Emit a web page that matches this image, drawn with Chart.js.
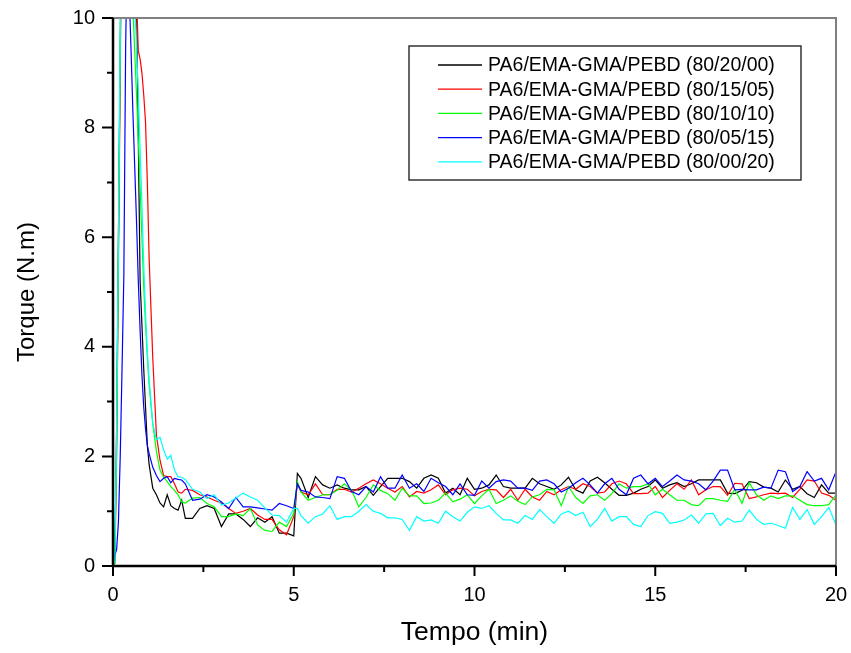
<!DOCTYPE html>
<html>
<head>
<meta charset="utf-8">
<script src="https://cdn.jsdelivr.net/npm/chart.js@4/dist/chart.umd.min.js"></script>
<style>
  html, body { margin: 0; padding: 0; background: #fff; }
  #torque { display: block; }
</style>
</head>
<body>
<canvas id="torque" width="851" height="653"></canvas>
<script>
// tempo (min) - finer steps during the loading peak
const tempo = [
  0, 0.05, 0.1, 0.15, 0.2, 0.25, 0.3, 0.35, 0.4, 0.45, 0.5, 0.55, 0.6, 0.65, 0.7, 0.75, 0.8, 0.85, 0.9, 0.95, 1.0,
  1.1, 1.2, 1.3, 1.4, 1.5, 1.6, 1.7, 1.8, 1.9, 2.0,
  2.2, 2.4, 2.6, 2.8, 3.0, 3.2, 3.4, 3.6, 3.8, 4.0, 4.2, 4.4, 4.6, 4.8,
  5.0, 5.1,
  5.2, 5.4, 5.6, 5.8, 6.0, 6.2, 6.4, 6.6, 6.8, 7.0, 7.2, 7.4, 7.6, 7.8, 8.0,
  8.2, 8.4, 8.6, 8.8, 9.0, 9.2, 9.4, 9.6, 9.8, 10.0, 10.2, 10.4, 10.6, 10.8, 11.0,
  11.2, 11.4, 11.6, 11.8, 12.0, 12.2, 12.4, 12.6, 12.8, 13.0, 13.2, 13.4, 13.6, 13.8, 14.0,
  14.2, 14.4, 14.6, 14.8, 15.0, 15.2, 15.4, 15.6, 15.8, 16.0, 16.2, 16.4, 16.6, 16.8, 17.0,
  17.2, 17.4, 17.6, 17.8, 18.0, 18.2, 18.4, 18.6, 18.8, 19.0, 19.2, 19.4, 19.6, 19.8, 20.0
];

// torque (N.m) per blend
const t80_20_00 = [
  0, 0.1, 2.5, 6, 9.5, 13, 14, 14.5, 14.5, 14, 13.5, 12.5, 11.5, 10.3, 7.8, 5.2, 4.4, 3.6, 2.9, 2.2, 1.85,
  1.42, 1.3, 1.15, 1.08, 1.3, 1.1, 1.05, 1.02, 1.2, 0.87,
  0.87, 1.05, 1.1, 1.05, 0.72, 0.95, 0.95, 0.85, 0.72, 0.88, 0.8, 0.9, 0.6, 0.6,
  0.55, 1.69,
  1.6, 1.25, 1.63, 1.48, 1.42, 1.48, 1.42, 1.39, 1.39, 1.45, 1.29, 1.45, 1.6, 1.6, 1.6,
  1.54, 1.42, 1.6, 1.66, 1.6, 1.33, 1.42, 1.3, 1.6, 1.4, 1.42, 1.48, 1.66, 1.45, 1.42,
  1.42, 1.42, 1.6, 1.5, 1.45, 1.4, 1.48, 1.62, 1.39, 1.33, 1.55, 1.62, 1.52, 1.4, 1.29,
  1.29, 1.33, 1.4, 1.45, 1.57, 1.42, 1.48, 1.52, 1.45, 1.5, 1.57, 1.57, 1.57, 1.57, 1.33,
  1.32, 1.38, 1.54, 1.52, 1.44, 1.42, 1.35, 1.57, 1.4, 1.45, 1.32, 1.25, 1.48, 1.33, 1.33
];
const t80_15_05 = [
  0, 0.05, 2, 5.5, 9, 12.5, 14, 15, 15, 14.5, 14, 13, 12, 10.4, 9.4, 9.25, 9.0, 8.6, 8.1, 7.0, 5.6,
  3.8, 2.4, 1.93, 1.65, 1.63, 1.63, 1.5, 1.35, 1.33, 1.4,
  1.38, 1.3, 1.26, 1.2, 1.15, 1.05, 0.96, 1.0, 1.05, 0.93, 0.85, 0.85, 0.66, 0.57,
  0.9, 1.5,
  1.35, 1.3, 1.5, 1.3, 1.3, 1.4, 1.4, 1.35, 1.42, 1.5, 1.57, 1.5, 1.42, 1.35, 1.45,
  1.26, 1.36, 1.33, 1.39, 1.48, 1.3, 1.39, 1.42, 1.4, 1.28, 1.36, 1.4, 1.39, 1.25, 1.4,
  1.2, 1.4, 1.26, 1.2, 1.36, 1.3, 1.39, 1.45, 1.4, 1.5, 1.45, 1.33, 1.35, 1.5, 1.55,
  1.5, 1.32, 1.32, 1.33, 1.45, 1.25, 1.38, 1.5, 1.4, 1.57, 1.3, 1.39, 1.45, 1.45, 1.29,
  1.51, 1.5, 1.23, 1.26, 1.3, 1.33, 1.32, 1.33, 1.25, 1.4, 1.57, 1.55, 1.33, 1.29, 1.2
];
const t80_10_10 = [
  0, 0.05, 2.2, 5.8, 9.5, 12.5, 13.5, 13.5, 13, 12, 11, 10.2, 9.4, 8.6, 7.8, 6.9, 6.0, 5.1, 4.4, 3.8, 3.3,
  2.6, 2.1, 1.75, 1.62, 1.54, 1.45, 1.38, 1.3, 1.17, 1.15,
  1.24, 1.25, 1.14, 1.08, 0.9, 0.9, 0.95, 0.92, 1.05, 0.75, 0.65, 0.63, 0.8, 0.72,
  0.96, 1.54,
  1.35, 1.2, 1.25, 1.3, 1.3, 1.38, 1.5, 1.38, 1.08, 1.25, 1.48, 1.38, 1.32, 1.2, 1.42,
  1.28, 1.28, 1.14, 1.15, 1.2, 1.33, 1.17, 1.22, 1.3, 1.14, 1.28, 1.4, 1.14, 1.2, 1.28,
  1.18, 1.12, 1.26, 1.3, 1.4, 1.39, 1.1, 1.45, 1.25, 1.14, 1.28, 1.3, 1.2, 1.32, 1.5,
  1.42, 1.45, 1.45, 1.5, 1.3, 1.4, 1.3, 1.2, 1.2, 1.12, 1.1, 1.23, 1.23, 1.2, 1.18,
  1.4, 1.14, 1.52, 1.3, 1.2, 1.28, 1.23, 1.28, 1.28, 1.2, 1.12, 1.1, 1.1, 1.12, 1.3
];
const t80_05_15 = [
  0, 0.2, 0.3, 0.8, 2, 3.6, 5.3, 9.5, 11.5, 10.4, 9.4, 8.3, 7.3, 6.3, 5.2, 4.3, 3.5, 2.9, 2.5, 2.2, 2.05,
  1.8, 1.65, 1.54, 1.6, 1.63, 1.52, 1.6, 1.58, 1.57, 1.5,
  1.2, 1.22, 1.3, 1.26, 1.17, 1.05, 1.25, 1.08, 1.08, 1.06, 1.04, 1.02, 1.14, 1.1,
  1.05, 1.5,
  1.38, 1.35, 1.26, 1.25, 1.23, 1.63, 1.6, 1.36, 1.3, 1.45, 1.35, 1.63, 1.42, 1.42, 1.66,
  1.42, 1.5, 1.36, 1.6, 1.52, 1.45, 1.3, 1.5, 1.3, 1.29, 1.55, 1.42, 1.54, 1.57, 1.55,
  1.42, 1.42, 1.38, 1.55, 1.57, 1.5, 1.35, 1.42, 1.52, 1.6, 1.48, 1.33, 1.5, 1.6, 1.4,
  1.3, 1.6, 1.66, 1.5, 1.6, 1.45, 1.55, 1.66, 1.57, 1.55, 1.5, 1.39, 1.55, 1.75, 1.75,
  1.39, 1.4, 1.39, 1.39, 1.44, 1.42, 1.75, 1.72, 1.36, 1.45, 1.72, 1.55, 1.6, 1.39, 1.72
];
const t80_00_20 = [
  0, 0.1, 2.5, 6, 9.8, 13, 14, 14, 13.5, 12.5, 11.5, 10.8, 10.3, 9.5, 8.6, 7.6, 6.6, 5.5, 4.6, 3.9, 3.4,
  2.6, 2.3, 2.35, 2.12, 1.95, 2.02, 1.75, 1.63, 1.62, 1.58,
  1.4, 1.35, 1.23, 1.3, 1.11, 1.15, 1.24, 1.33, 1.26, 1.2, 1.06, 0.93, 0.92, 0.8,
  1.05, 1.05,
  0.92, 0.78, 0.9, 0.95, 1.1, 0.85, 0.9, 0.9, 1.0, 1.12, 1.0, 0.96, 0.88, 0.88, 0.85,
  0.65, 0.9, 0.82, 0.84, 0.78, 1.0, 0.9, 0.82, 0.98, 1.08, 1.05, 1.1, 0.96, 0.84, 0.84,
  0.78, 0.92, 0.85, 1.03, 0.9, 0.78, 0.95, 1.0, 0.92, 0.98, 0.72, 0.85, 1.05, 0.82, 0.9,
  0.9, 0.76, 0.72, 0.92, 0.99, 0.96, 0.78, 0.8, 0.84, 0.93, 0.78, 0.95, 0.96, 0.74, 0.87,
  0.8, 0.82, 1.02, 0.85, 0.76, 0.78, 0.74, 0.69, 1.07, 0.85, 1.03, 0.76, 0.9, 1.07, 0.75
];

const labels = [
  'PA6/EMA-GMA/PEBD (80/20/00)',
  'PA6/EMA-GMA/PEBD (80/15/05)',
  'PA6/EMA-GMA/PEBD (80/10/10)',
  'PA6/EMA-GMA/PEBD (80/05/15)',
  'PA6/EMA-GMA/PEBD (80/00/20)'
];
const colors = ['#000000', '#ff0000', '#00ff00', '#0000ff', '#00ffff'];
const series = [t80_20_00, t80_15_05, t80_10_10, t80_05_15, t80_00_20];

const xMajor = [0, 5, 10, 15, 20];
const xMinor = [2.5, 7.5, 12.5, 17.5];
const yMajor = [0, 2, 4, 6, 8, 10];
const yMinor = [1, 3, 5, 7, 9];

const FONT = "'Liberation Sans', Arial, sans-serif";

// axes frame with outward major/minor ticks, plus boxed legend
const originFrame = {
  id: 'originFrame',
  afterDatasetsDraw(chart) {
    const { ctx, chartArea: a, scales } = chart;
    const x = scales.x, y = scales.y;
    ctx.save();
    ctx.lineCap = 'butt';
    ctx.strokeStyle = '#808080';
    ctx.lineWidth = 2;
    ctx.beginPath();
    ctx.moveTo(a.left, a.top);
    ctx.lineTo(a.right, a.top);
    ctx.lineTo(a.right, a.bottom);
    ctx.stroke();

    ctx.strokeStyle = '#000';
    ctx.lineWidth = 2.5;
    ctx.beginPath();
    ctx.moveTo(a.left, a.top);
    ctx.lineTo(a.left, a.bottom);
    ctx.lineTo(a.right, a.bottom);
    ctx.stroke();

    ctx.lineWidth = 2;
    ctx.beginPath();
    xMajor.concat(xMinor).forEach(v => {
      const px = x.getPixelForValue(v);
      const len = xMajor.includes(v) ? 10 : 6;
      ctx.moveTo(px, a.bottom);
      ctx.lineTo(px, a.bottom + len);
    });
    yMajor.concat(yMinor).forEach(v => {
      const py = y.getPixelForValue(v);
      const len = yMajor.includes(v) ? 11 : 6;
      ctx.moveTo(a.left, py);
      ctx.lineTo(a.left - len, py);
    });
    ctx.stroke();

    // legend box
    const bx = 409, by = 46, bw = 392, bh = 134;
    ctx.fillStyle = '#fff';
    ctx.fillRect(bx, by, bw, bh);
    ctx.strokeStyle = '#333';
    ctx.lineWidth = 1.5;
    ctx.strokeRect(bx, by, bw, bh);
    ctx.font = '19.5px ' + FONT;
    ctx.textBaseline = 'middle';
    ctx.textAlign = 'left';
    chart.data.datasets.forEach((ds, i) => {
      const ry = 65 + i * 24.2;
      ctx.strokeStyle = ds.borderColor;
      ctx.lineWidth = 1.3;
      ctx.beginPath();
      ctx.moveTo(438, ry);
      ctx.lineTo(482, ry);
      ctx.stroke();
      ctx.fillStyle = '#000';
      ctx.fillText(ds.label, 488, ry + 1);
    });
    ctx.restore();
  }
};

new Chart(document.getElementById('torque'), {
  type: 'line',
  data: {
    datasets: series.map((vals, i) => ({
      label: labels[i],
      data: tempo.map((t, k) => ({ x: t, y: vals[k] })),
      borderColor: colors[i],
      borderWidth: 1.2,
      pointRadius: 0,
      tension: 0,
      fill: false,
      order: 5 - i
    }))
  },
  options: {
    responsive: false,
    animation: false,
    layout: { padding: { left: 0, top: 18, right: 15, bottom: 0 } },
    plugins: { legend: { display: false }, tooltip: { enabled: false } },
    scales: {
      x: {
        type: 'linear',
        min: 0,
        max: 20,
        grid: { display: false, drawTicks: false },
        border: { display: false },
        ticks: { stepSize: 5, padding: 17, color: '#000', font: { family: FONT, size: 20 } },
        title: { display: true, text: 'Tempo (min)', color: '#000', font: { family: FONT, size: 26.5 }, padding: { top: 0, bottom: 4 } },
        afterFit(scale) {
          scale.height = 87;
          scale.paddingLeft = 0;
          scale.paddingRight = 0;
        }
      },
      y: {
        min: 0,
        max: 10,
        grid: { display: false, drawTicks: false },
        border: { display: false },
        ticks: { stepSize: 2, padding: 18, color: '#000', font: { family: FONT, size: 20 } },
        title: { display: true, text: 'Torque (N.m)', color: '#000', font: { family: FONT, size: 24 }, padding: { top: 13, bottom: 0 } },
        afterFit(scale) {
          scale.width = 113;
          scale.paddingTop = 0;
          scale.paddingBottom = 0;
        }
      }
    }
  },
  plugins: [originFrame]
});
</script>
</body>
</html>
